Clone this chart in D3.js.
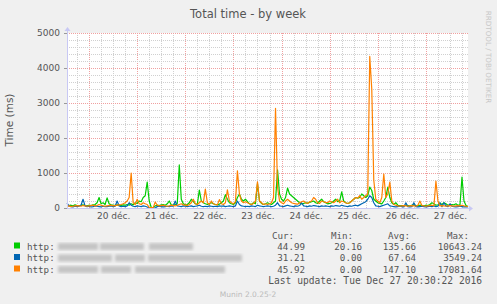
<!DOCTYPE html>
<html><head><meta charset="utf-8">
<script src="https://cdn.jsdelivr.net/npm/d3@7"></script>
<style>
html,body{margin:0;padding:0;background:#f0f0f0;}
svg{display:block;}
</style>
</head><body>
<svg id="c" width="497" height="304"></svg>
<script>
// ---- data (hourly samples from 19 Dec 13:00 to 27 Dec 21:00) ----
const startTime = Date.UTC(2016, 11, 19, 13);
const seriesNames = ["http:", "http:", "http:"];
const seriesColors = ["#00cc00", "#0066b3", "#ff8000"];
const green = [
  60,70,80,60,90,70,60,80,90,70,
  60,80,70,90,100,150,300,120,150,100,
  290,120,90,80,70,90,80,70,90,80,
  100,80,120,90,150,130,200,180,300,350,
  740,200,20,10,60,80,70,90,100,80,
  120,200,90,80,100,130,1230,250,120,90,
  100,150,250,180,120,100,510,200,150,120,
  100,130,150,120,100,90,110,150,200,380,
  250,150,120,100,150,300,400,250,200,250,
  180,120,100,150,120,700,200,130,100,120,
  150,120,100,150,200,1090,400,250,200,300,
  570,400,350,300,250,200,150,120,130,150,
  140,160,180,200,150,130,200,250,180,150,
  120,130,150,200,250,180,200,460,200,150,
  130,150,200,250,300,280,300,400,350,300,
  350,600,500,250,200,150,130,120,200,300,
  600,300,150,100,150,80,60,70,60,80,
  70,60,80,90,70,60,80,70,60,80,
  70,100,150,120,80,90,140,100,150,120,
  80,70,100,90,120,80,90,880,200,70,
  45
];
const blue = [
  140,60,40,30,50,40,60,80,250,60,
  40,50,30,40,60,50,40,30,50,40,
  40,50,60,40,50,200,60,40,50,40,
  60,150,80,50,40,60,50,40,60,50,
  30,0,0,0,0,40,50,40,30,40,
  50,40,60,50,200,60,50,40,60,50,
  40,50,60,40,50,60,80,50,40,50,
  40,60,50,40,50,40,60,50,60,40,
  50,60,50,40,60,200,100,60,50,40,
  50,40,60,50,40,80,60,50,40,50,
  60,50,40,50,80,150,60,50,40,60,
  80,60,50,40,60,50,70,150,60,50,
  40,60,50,70,60,50,40,60,50,60,
  50,40,60,50,70,60,50,80,60,50,
  40,60,50,70,80,60,90,120,150,180,
  250,350,300,150,60,50,40,60,80,100,
  120,60,50,40,30,40,50,40,30,150,
  40,30,40,150,40,30,40,50,40,30,
  40,50,40,60,40,50,150,40,150,60,
  40,120,50,40,30,40,50,40,30,40,
  31
];
const orange = [
  50,60,40,50,60,70,60,50,70,60,
  50,60,70,80,60,70,100,80,60,50,
  60,70,80,60,70,80,90,100,120,150,
  200,300,1000,150,100,250,120,100,150,120,
  100,20,10,10,170,80,60,70,80,60,
  50,60,80,70,60,80,100,120,90,80,
  70,100,150,250,120,100,150,200,150,540,
  150,100,200,120,100,90,240,120,100,150,
  520,200,150,120,180,1060,400,200,150,180,
  150,120,100,130,200,750,200,150,100,120,
  100,120,150,300,2850,600,200,150,120,200,
  250,200,150,130,120,110,150,180,200,150,
  130,180,200,300,250,150,130,200,180,160,
  150,200,180,150,200,250,150,200,180,150,
  130,150,200,250,300,280,350,250,300,350,
  400,4330,3400,800,250,200,150,300,970,300,
  400,740,200,100,80,60,50,60,70,60,
  50,60,70,60,50,80,200,70,60,50,
  60,70,80,60,770,200,60,70,60,50,
  60,70,60,50,60,70,60,80,60,50,
  46
];
const yTicks = [0, 1000, 2000, 3000, 4000, 5000];
const dayLabels = ["20 déc.", "21 déc.", "22 déc.", "23 déc.", "24 déc.", "25 déc.", "26 déc.", "27 déc."];
const statHeaders = ["Cur:", "Min:", "Avg:", "Max:"];
const statCur = ["44.99", "31.21", "45.92"];
const statMin = ["20.16", "0.00", "0.00"];
const statAvg = ["135.66", "67.64", "147.10"];
const statMax = ["10643.24", "3549.24", "17081.64"];
const titleText = "Total time - by week";
const yTitle = "Time (ms)";
const lastUpdate = "Last update: Tue Dec 27 20:30:22 2016";
const credit = "RRDTOOL / TOBI OETIKER";
const version = "Munin 2.0.25-2";

// ---- drawing ----
const svg = d3.select("#c");
const L = 67, R = 468, T = 33, B = 208;
const H = 3600 * 1000;
const times = green.map((_, i) => new Date(startTime + i * H));
const x = d3.scaleUtc().domain([times[0], times[times.length - 1]]).range([L, R]);
const y = d3.scaleLinear().domain([0, 5000]).range([B, T]);

svg.append("rect").attr("x", L).attr("y", T).attr("width", R - L).attr("height", B - T).attr("fill", "#fff");

// grid
const g = svg.append("g").attr("shape-rendering", "crispEdges");
const minorX = d3.utcHour.every(6).range(times[0], new Date(+times[times.length - 1] + 1));
minorX.forEach(t => {
  const isDay = t.getUTCHours() === 0;
  g.append("line").attr("x1", Math.round(x(t)) + 0.5).attr("x2", Math.round(x(t)) + 0.5)
    .attr("y1", T).attr("y2", B)
    .attr("stroke", isDay ? "#f0a0a0" : "#d0d0d0").attr("stroke-dasharray", "1,1");
});
d3.range(200, 5001, 200).forEach(v => {
  const major = v % 1000 === 0;
  g.append("line").attr("x1", L).attr("x2", R)
    .attr("y1", Math.round(y(v)) + 0.5).attr("y2", Math.round(y(v)) + 0.5)
    .attr("stroke", major ? "#f0a0a0" : "#d0d0d0").attr("stroke-dasharray", "1,1");
});

// lines
[green, blue, orange].forEach((arr, k) => {
  const line = d3.line().x((d, i) => x(times[i])).y(d => y(d));
  svg.append("path").datum(arr).attr("d", line)
    .attr("fill", "none").attr("stroke", seriesColors[k]).attr("stroke-width", 1.2)
    .attr("stroke-linejoin", "round");
});

// axes lines (light blue) with arrows
const axC = "#c8c8f4";
svg.append("line").attr("x1", L + 0.5).attr("x2", L + 0.5).attr("y1", B + 0.5).attr("y2", T - 4).attr("stroke", axC);
svg.append("path").attr("d", `M${L - 2.5},${T - 2} L${L + 0.5},${T - 6} L${L + 3.5},${T - 2} Z`).attr("fill", axC);
svg.append("line").attr("x1", L).attr("x2", R + 3).attr("y1", B + 0.5).attr("y2", B + 0.5).attr("stroke", axC);
svg.append("path").attr("d", `M${R + 1},${B - 2.5} L${R + 5},${B + 0.5} L${R + 1},${B + 3.5} Z`).attr("fill", axC);

// y axis labels via d3 axis
const yAxis = d3.axisLeft(y).tickValues(yTicks).tickSize(3).tickFormat(d3.format("d"));
const ya = svg.append("g").attr("transform", `translate(${L},0)`).call(yAxis);
ya.select(".domain").remove();
ya.selectAll(".tick line").attr("stroke", "#999").attr("shape-rendering", "crispEdges");
ya.selectAll("text").attr("font-family", "DejaVu Sans").attr("font-size", 9).attr("fill", "#555").attr("dx", -1);

// x axis labels at noon
const noons = dayLabels.map((_, i) => new Date(Date.UTC(2016, 11, 20 + i, 12)));
const xAxis = d3.axisBottom(x).tickValues(noons).tickSize(0).tickFormat((d, i) => dayLabels[i]);
const xa = svg.append("g").attr("transform", `translate(0,${B + 2})`).call(xAxis);
xa.select(".domain").remove();
xa.selectAll("text").attr("font-family", "DejaVu Sans").attr("font-size", 9).attr("fill", "#555");

// titles
svg.append("text").attr("x", 248).attr("y", 18).attr("text-anchor", "middle")
  .attr("font-family", "DejaVu Sans").attr("font-size", 11.5).attr("fill", "#555").text(titleText);
svg.append("text").attr("transform", "translate(13,120) rotate(-90)").attr("text-anchor", "middle")
  .attr("font-family", "DejaVu Sans").attr("font-size", 10.5).attr("fill", "#555").text(yTitle);
svg.append("text").attr("transform", "translate(486,57) rotate(90)").attr("text-anchor", "middle")
  .attr("font-family", "DejaVu Sans").attr("font-size", 7.2).attr("fill", "#c8c8c8").text(credit);

// legend
const defs = svg.append("defs");
defs.append("filter").attr("id", "blur").append("feGaussianBlur").attr("stdDeviation", 1.6);
const rowY = [246.5, 258, 269.5];
const blurSegs = [[[58, 40], [100, 44], [149, 44]], [[58, 54], [115, 30], [148, 94]], [[58, 40], [101, 30], [135, 90]]];
const mono = "DejaVu Sans Mono";
const fs = 9.2;
rowY.forEach((ry, k) => {
  svg.append("rect").attr("x", 14).attr("y", ry - 4).attr("width", 6).attr("height", 6).attr("fill", seriesColors[k]);
  svg.append("text").attr("x", 27).attr("y", ry + 3).attr("font-family", mono).attr("font-size", fs).attr("fill", "#555").text(seriesNames[k]);
  blurSegs[k].forEach(s => {
    svg.append("rect").attr("x", s[0]).attr("y", ry - 3.5).attr("width", s[1]).attr("height", 7)
      .attr("fill", "#c4c4c4").attr("filter", "url(#blur)");
  });
  [[statCur, 305], [statMin, 362], [statAvg, 416], [statMax, 482]].forEach(([arr, xe]) => {
    svg.append("text").attr("x", xe).attr("y", ry + 3).attr("text-anchor", "end")
      .attr("font-family", mono).attr("font-size", fs).attr("fill", "#555").text(arr[k]);
  });
});
[272, 331, 388, 447].forEach((xs, j) => {
  svg.append("text").attr("x", xs).attr("y", 238.5).attr("font-family", mono).attr("font-size", fs).attr("fill", "#555").text(statHeaders[j]);
});
svg.append("text").attr("x", 482).attr("y", 284).attr("text-anchor", "end").attr("font-family", mono).attr("font-size", 9.6)
  .attr("fill", "#555").attr("xml:space", "preserve").text(lastUpdate);
svg.append("text").attr("x", 248).attr("y", 297).attr("text-anchor", "middle").attr("font-family", "DejaVu Sans").attr("font-size", 7.5)
  .attr("fill", "#bbb").text(version);
</script>
</body></html>
